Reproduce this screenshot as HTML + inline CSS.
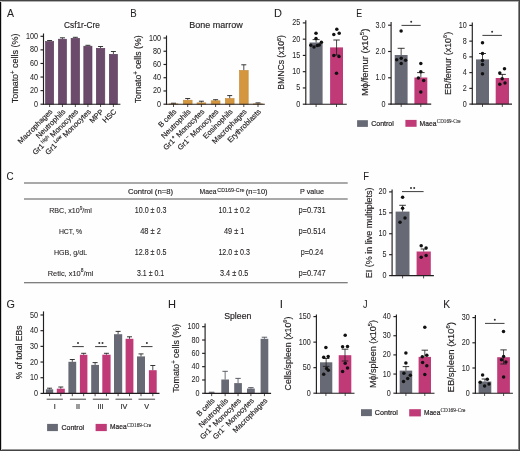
<!DOCTYPE html>
<html><head><meta charset="utf-8"><style>
html,body{margin:0;padding:0;background:#fefefe;}
svg{display:block;will-change:transform;}
text{font-family:"Liberation Sans", sans-serif;stroke:#231f20;stroke-width:0.16px;}
</style></head><body>
<svg width="520" height="451" viewBox="0 0 520 451" font-family='"Liberation Sans", sans-serif' fill="#231f20">
<rect x="0" y="0" width="520" height="451" fill="#fefefe"/>
<text x="0" y="0" font-size="10.5" style="stroke-width:0.06px" transform="translate(7.0 17.0) scale(1.0 1)">A</text>
<text x="0" y="0" font-size="10.5" style="stroke-width:0.06px" transform="translate(130.23 17.0) scale(0.92 1)">B</text>
<text x="0" y="0" font-size="10.5" style="stroke-width:0.06px" transform="translate(273.92 17.0) scale(1.05 1)">D</text>
<text x="0" y="0" font-size="10.5" style="stroke-width:0.06px" transform="translate(356.3 17.0) scale(0.84 1)">E</text>
<text x="0" y="0" font-size="10.5" style="stroke-width:0.06px" transform="translate(6.61 180.0) scale(0.94 1)">C</text>
<text x="0" y="0" font-size="10.5" style="stroke-width:0.06px" transform="translate(363.14 180.0) scale(0.9 1)">F</text>
<text x="0" y="0" font-size="10.5" style="stroke-width:0.06px" transform="translate(6.56 308.0) scale(1.03 1)">G</text>
<text x="0" y="0" font-size="10.5" style="stroke-width:0.06px" transform="translate(168.12 308.0) scale(1.05 1)">H</text>
<text x="0" y="0" font-size="10.5" style="stroke-width:0.06px" transform="translate(279.76 308.0) scale(1.1 1)">I</text>
<text x="0" y="0" font-size="10.5" style="stroke-width:0.06px" transform="translate(363.12 308.0) scale(0.86 1)">J</text>
<text x="0" y="0" font-size="10.5" style="stroke-width:0.06px" transform="translate(443.18 308.0) scale(0.98 1)">K</text>
<line x1="43.50" y1="33.50" x2="43.50" y2="104.70" stroke="#231f20" stroke-width="1.15"/>
<line x1="40.50" y1="104.20" x2="43.50" y2="104.20" stroke="#231f20" stroke-width="1.15"/>
<text x="37.90" y="106.70" font-size="8.2" style="stroke-width:0.04px" text-anchor="end" textLength="4.00" lengthAdjust="spacingAndGlyphs" >0</text>
<line x1="40.50" y1="90.62" x2="43.50" y2="90.62" stroke="#231f20" stroke-width="1.15"/>
<text x="37.90" y="93.12" font-size="8.2" style="stroke-width:0.04px" text-anchor="end" textLength="8.01" lengthAdjust="spacingAndGlyphs" >20</text>
<line x1="40.50" y1="77.04" x2="43.50" y2="77.04" stroke="#231f20" stroke-width="1.15"/>
<text x="37.90" y="79.54" font-size="8.2" style="stroke-width:0.04px" text-anchor="end" textLength="8.01" lengthAdjust="spacingAndGlyphs" >40</text>
<line x1="40.50" y1="63.46" x2="43.50" y2="63.46" stroke="#231f20" stroke-width="1.15"/>
<text x="37.90" y="65.96" font-size="8.2" style="stroke-width:0.04px" text-anchor="end" textLength="8.01" lengthAdjust="spacingAndGlyphs" >60</text>
<line x1="40.50" y1="49.88" x2="43.50" y2="49.88" stroke="#231f20" stroke-width="1.15"/>
<text x="37.90" y="52.38" font-size="8.2" style="stroke-width:0.04px" text-anchor="end" textLength="8.01" lengthAdjust="spacingAndGlyphs" >80</text>
<line x1="40.50" y1="36.30" x2="43.50" y2="36.30" stroke="#231f20" stroke-width="1.15"/>
<text x="37.90" y="38.80" font-size="8.2" style="stroke-width:0.04px" text-anchor="end" textLength="12.01" lengthAdjust="spacingAndGlyphs" >100</text>
<rect x="45.50" y="41.50" width="8.20" height="62.70" fill="#6b4a6b" stroke="#5a3a5a" stroke-width="0.6"/>
<line x1="49.60" y1="40.50" x2="49.60" y2="41.20" stroke="#222" stroke-width="0.8"/>
<line x1="47.10" y1="40.50" x2="52.10" y2="40.50" stroke="#222" stroke-width="0.9"/>
<rect x="58.40" y="39.20" width="8.10" height="65.00" fill="#6b4a6b" stroke="#5a3a5a" stroke-width="0.6"/>
<line x1="62.45" y1="37.80" x2="62.45" y2="38.90" stroke="#222" stroke-width="0.8"/>
<line x1="59.95" y1="37.80" x2="64.95" y2="37.80" stroke="#222" stroke-width="0.9"/>
<rect x="71.10" y="38.30" width="8.50" height="65.90" fill="#6b4a6b" stroke="#5a3a5a" stroke-width="0.6"/>
<line x1="75.35" y1="37.30" x2="75.35" y2="38.00" stroke="#222" stroke-width="0.8"/>
<line x1="72.85" y1="37.30" x2="77.85" y2="37.30" stroke="#222" stroke-width="0.9"/>
<rect x="83.80" y="46.20" width="8.20" height="58.00" fill="#6b4a6b" stroke="#5a3a5a" stroke-width="0.6"/>
<line x1="87.90" y1="45.30" x2="87.90" y2="45.90" stroke="#222" stroke-width="0.8"/>
<line x1="85.40" y1="45.30" x2="90.40" y2="45.30" stroke="#222" stroke-width="0.9"/>
<rect x="96.30" y="48.30" width="8.50" height="55.90" fill="#6b4a6b" stroke="#5a3a5a" stroke-width="0.6"/>
<line x1="100.55" y1="46.50" x2="100.55" y2="48.00" stroke="#222" stroke-width="0.8"/>
<line x1="98.05" y1="46.50" x2="103.05" y2="46.50" stroke="#222" stroke-width="0.9"/>
<rect x="109.30" y="54.30" width="8.20" height="49.90" fill="#6b4a6b" stroke="#5a3a5a" stroke-width="0.6"/>
<line x1="113.40" y1="51.50" x2="113.40" y2="54.00" stroke="#222" stroke-width="0.8"/>
<line x1="110.90" y1="51.50" x2="115.90" y2="51.50" stroke="#222" stroke-width="0.9"/>
<line x1="43.00" y1="104.20" x2="120.40" y2="104.20" stroke="#231f20" stroke-width="1.15"/>
<line x1="49.60" y1="104.20" x2="49.60" y2="107.00" stroke="#231f20" stroke-width="0.8"/>
<line x1="62.45" y1="104.20" x2="62.45" y2="107.00" stroke="#231f20" stroke-width="0.8"/>
<line x1="75.35" y1="104.20" x2="75.35" y2="107.00" stroke="#231f20" stroke-width="0.8"/>
<line x1="87.90" y1="104.20" x2="87.90" y2="107.00" stroke="#231f20" stroke-width="0.8"/>
<line x1="100.55" y1="104.20" x2="100.55" y2="107.00" stroke="#231f20" stroke-width="0.8"/>
<line x1="113.40" y1="104.20" x2="113.40" y2="107.00" stroke="#231f20" stroke-width="0.8"/>
<text x="82.00" y="28.00" font-size="8.6" text-anchor="middle" textLength="36.00" lengthAdjust="spacingAndGlyphs" >Csf1r-Cre</text>
<text x="18.45" y="68.40" font-size="9.6" text-anchor="middle" textLength="69.80" lengthAdjust="spacingAndGlyphs" transform="rotate(-90 18.45 68.40)" >Tomato<tspan font-size="6.5" dy="-3.5">+</tspan><tspan dy="3.5"> cells (%)</tspan></text>
<text x="53.00" y="112.10" font-size="7.5" text-anchor="end" transform="rotate(-45 53.00 112.10)">Macrophages</text>
<text x="65.85" y="112.10" font-size="7.5" text-anchor="end" transform="rotate(-45 65.85 112.10)">Neutrophils</text>
<text x="78.75" y="112.10" font-size="7.5" text-anchor="end" transform="rotate(-45 78.75 112.10)">Gr1<tspan font-size="5" dx="0.8" dy="-3" fill="#555">high</tspan><tspan dy="3"> Monocytes</tspan></text>
<text x="91.30" y="112.10" font-size="7.5" text-anchor="end" transform="rotate(-45 91.30 112.10)">Gr1<tspan font-size="5" dx="0.8" dy="-3">Low</tspan><tspan dy="3"> Monocytes</tspan></text>
<text x="103.95" y="112.10" font-size="7.5" text-anchor="end" transform="rotate(-45 103.95 112.10)">MPP</text>
<text x="116.80" y="112.10" font-size="7.5" text-anchor="end" transform="rotate(-45 116.80 112.10)">HSC</text>
<line x1="166.50" y1="35.50" x2="166.50" y2="104.70" stroke="#231f20" stroke-width="1.15"/>
<line x1="163.50" y1="104.20" x2="166.50" y2="104.20" stroke="#231f20" stroke-width="1.15"/>
<text x="160.90" y="106.70" font-size="8.2" style="stroke-width:0.04px" text-anchor="end" textLength="4.00" lengthAdjust="spacingAndGlyphs" >0</text>
<line x1="163.50" y1="90.96" x2="166.50" y2="90.96" stroke="#231f20" stroke-width="1.15"/>
<text x="160.90" y="93.46" font-size="8.2" style="stroke-width:0.04px" text-anchor="end" textLength="8.01" lengthAdjust="spacingAndGlyphs" >20</text>
<line x1="163.50" y1="77.72" x2="166.50" y2="77.72" stroke="#231f20" stroke-width="1.15"/>
<text x="160.90" y="80.22" font-size="8.2" style="stroke-width:0.04px" text-anchor="end" textLength="8.01" lengthAdjust="spacingAndGlyphs" >40</text>
<line x1="163.50" y1="64.48" x2="166.50" y2="64.48" stroke="#231f20" stroke-width="1.15"/>
<text x="160.90" y="66.98" font-size="8.2" style="stroke-width:0.04px" text-anchor="end" textLength="8.01" lengthAdjust="spacingAndGlyphs" >60</text>
<line x1="163.50" y1="51.24" x2="166.50" y2="51.24" stroke="#231f20" stroke-width="1.15"/>
<text x="160.90" y="53.74" font-size="8.2" style="stroke-width:0.04px" text-anchor="end" textLength="8.01" lengthAdjust="spacingAndGlyphs" >80</text>
<line x1="163.50" y1="38.00" x2="166.50" y2="38.00" stroke="#231f20" stroke-width="1.15"/>
<text x="160.90" y="40.50" font-size="8.2" style="stroke-width:0.04px" text-anchor="end" textLength="12.01" lengthAdjust="spacingAndGlyphs" >100</text>
<rect x="169.10" y="103.84" width="8.80" height="0.36" fill="#d4963e" stroke="#c48a36" stroke-width="0.6"/>
<line x1="173.50" y1="103.21" x2="173.50" y2="103.54" stroke="#222" stroke-width="0.8"/>
<line x1="171.00" y1="103.21" x2="176.00" y2="103.21" stroke="#222" stroke-width="0.9"/>
<rect x="183.30" y="100.20" width="8.80" height="4.00" fill="#d4963e" stroke="#c48a36" stroke-width="0.6"/>
<line x1="187.70" y1="98.51" x2="187.70" y2="99.90" stroke="#222" stroke-width="0.8"/>
<line x1="185.20" y1="98.51" x2="190.20" y2="98.51" stroke="#222" stroke-width="0.9"/>
<rect x="197.00" y="102.84" width="8.80" height="1.36" fill="#d4963e" stroke="#c48a36" stroke-width="0.6"/>
<line x1="201.40" y1="101.22" x2="201.40" y2="102.55" stroke="#222" stroke-width="0.8"/>
<line x1="198.90" y1="101.22" x2="203.90" y2="101.22" stroke="#222" stroke-width="0.9"/>
<rect x="211.20" y="100.79" width="8.80" height="3.41" fill="#d4963e" stroke="#c48a36" stroke-width="0.6"/>
<line x1="215.60" y1="99.70" x2="215.60" y2="100.49" stroke="#222" stroke-width="0.8"/>
<line x1="213.10" y1="99.70" x2="218.10" y2="99.70" stroke="#222" stroke-width="0.9"/>
<rect x="225.30" y="98.54" width="8.80" height="5.66" fill="#d4963e" stroke="#c48a36" stroke-width="0.6"/>
<line x1="229.70" y1="95.59" x2="229.70" y2="98.24" stroke="#222" stroke-width="0.8"/>
<line x1="227.20" y1="95.59" x2="232.20" y2="95.59" stroke="#222" stroke-width="0.9"/>
<rect x="239.40" y="70.41" width="8.80" height="33.79" fill="#d4963e" stroke="#c48a36" stroke-width="0.6"/>
<line x1="243.80" y1="64.81" x2="243.80" y2="70.11" stroke="#222" stroke-width="0.8"/>
<line x1="241.30" y1="64.81" x2="246.30" y2="64.81" stroke="#222" stroke-width="0.9"/>
<rect x="253.60" y="103.84" width="8.80" height="0.36" fill="#d4963e" stroke="#c48a36" stroke-width="0.6"/>
<line x1="258.00" y1="102.88" x2="258.00" y2="103.54" stroke="#222" stroke-width="0.8"/>
<line x1="255.50" y1="102.88" x2="260.50" y2="102.88" stroke="#222" stroke-width="0.9"/>
<line x1="166.00" y1="104.20" x2="264.80" y2="104.20" stroke="#231f20" stroke-width="1.15"/>
<line x1="173.50" y1="104.20" x2="173.50" y2="107.00" stroke="#231f20" stroke-width="0.8"/>
<line x1="187.70" y1="104.20" x2="187.70" y2="107.00" stroke="#231f20" stroke-width="0.8"/>
<line x1="201.40" y1="104.20" x2="201.40" y2="107.00" stroke="#231f20" stroke-width="0.8"/>
<line x1="215.60" y1="104.20" x2="215.60" y2="107.00" stroke="#231f20" stroke-width="0.8"/>
<line x1="229.70" y1="104.20" x2="229.70" y2="107.00" stroke="#231f20" stroke-width="0.8"/>
<line x1="243.80" y1="104.20" x2="243.80" y2="107.00" stroke="#231f20" stroke-width="0.8"/>
<line x1="258.00" y1="104.20" x2="258.00" y2="107.00" stroke="#231f20" stroke-width="0.8"/>
<text x="216.00" y="27.90" font-size="8.6" text-anchor="middle" textLength="53.40" lengthAdjust="spacingAndGlyphs" >Bone marrow</text>
<text x="141.05" y="69.35" font-size="9.6" text-anchor="middle" textLength="67.90" lengthAdjust="spacingAndGlyphs" transform="rotate(-90 141.05 69.35)" >Tomato<tspan font-size="6.5" dy="-3.5">+</tspan><tspan dy="3.5"> cells (%)</tspan></text>
<text x="176.90" y="112.10" font-size="7.5" text-anchor="end" transform="rotate(-45 176.90 112.10)">B cells</text>
<text x="191.10" y="112.10" font-size="7.5" text-anchor="end" transform="rotate(-45 191.10 112.10)">Neutrophils</text>
<text x="204.80" y="112.10" font-size="7.5" text-anchor="end" transform="rotate(-45 204.80 112.10)">Gr1<tspan font-size="5.5" dx="0.3" dy="-3">+</tspan><tspan dy="3"> Monocytes</tspan></text>
<text x="219.00" y="112.10" font-size="7.5" text-anchor="end" transform="rotate(-45 219.00 112.10)">Gr1<tspan font-size="5.5" dx="0.3" dy="-3">−</tspan><tspan dy="3"> Monocytes</tspan></text>
<text x="233.10" y="112.10" font-size="7.5" text-anchor="end" transform="rotate(-45 233.10 112.10)">Eosinophils</text>
<text x="247.20" y="112.10" font-size="7.5" text-anchor="end" transform="rotate(-45 247.20 112.10)">Macrophages</text>
<text x="261.40" y="112.10" font-size="7.5" text-anchor="end" transform="rotate(-45 261.40 112.10)">Erythroblasts</text>
<line x1="305.80" y1="20.20" x2="305.80" y2="104.70" stroke="#231f20" stroke-width="1.15"/>
<line x1="302.80" y1="104.20" x2="305.80" y2="104.20" stroke="#231f20" stroke-width="1.15"/>
<text x="300.20" y="106.70" font-size="8.2" style="stroke-width:0.04px" text-anchor="end" textLength="4.00" lengthAdjust="spacingAndGlyphs" >0</text>
<line x1="302.80" y1="87.94" x2="305.80" y2="87.94" stroke="#231f20" stroke-width="1.15"/>
<text x="300.20" y="90.44" font-size="8.2" style="stroke-width:0.04px" text-anchor="end" textLength="4.00" lengthAdjust="spacingAndGlyphs" >5</text>
<line x1="302.80" y1="71.68" x2="305.80" y2="71.68" stroke="#231f20" stroke-width="1.15"/>
<text x="300.20" y="74.18" font-size="8.2" style="stroke-width:0.04px" text-anchor="end" textLength="8.01" lengthAdjust="spacingAndGlyphs" >10</text>
<line x1="302.80" y1="55.42" x2="305.80" y2="55.42" stroke="#231f20" stroke-width="1.15"/>
<text x="300.20" y="57.92" font-size="8.2" style="stroke-width:0.04px" text-anchor="end" textLength="8.01" lengthAdjust="spacingAndGlyphs" >15</text>
<line x1="302.80" y1="39.16" x2="305.80" y2="39.16" stroke="#231f20" stroke-width="1.15"/>
<text x="300.20" y="41.66" font-size="8.2" style="stroke-width:0.04px" text-anchor="end" textLength="8.01" lengthAdjust="spacingAndGlyphs" >20</text>
<line x1="302.80" y1="22.90" x2="305.80" y2="22.90" stroke="#231f20" stroke-width="1.15"/>
<text x="300.20" y="25.40" font-size="8.2" style="stroke-width:0.04px" text-anchor="end" textLength="8.01" lengthAdjust="spacingAndGlyphs" >25</text>
<rect x="309.60" y="42.50" width="13.00" height="61.70" fill="#676a74"/>
<line x1="316.10" y1="39.60" x2="316.10" y2="42.50" stroke="#231f20" stroke-width="0.8"/>
<line x1="312.60" y1="39.60" x2="319.60" y2="39.60" stroke="#231f20" stroke-width="0.9"/>
<rect x="330.10" y="47.40" width="12.90" height="56.80" fill="#c03a78"/>
<line x1="336.55" y1="40.00" x2="336.55" y2="55.00" stroke="#231f20" stroke-width="0.8"/>
<line x1="333.35" y1="40.00" x2="339.75" y2="40.00" stroke="#231f20" stroke-width="0.9"/>
<line x1="333.35" y1="55.00" x2="339.75" y2="55.00" stroke="#231f20" stroke-width="0.9"/>
<line x1="305.30" y1="104.20" x2="346.75" y2="104.20" stroke="#231f20" stroke-width="1.15"/>
<line x1="316.10" y1="104.20" x2="316.10" y2="107.00" stroke="#231f20" stroke-width="0.8"/>
<line x1="336.50" y1="104.20" x2="336.50" y2="107.00" stroke="#231f20" stroke-width="0.8"/>
<circle cx="316.00" cy="33.20" r="1.75" fill="#111"/>
<circle cx="316.00" cy="38.40" r="1.75" fill="#111"/>
<circle cx="321.40" cy="42.30" r="1.75" fill="#111"/>
<circle cx="310.80" cy="45.30" r="1.75" fill="#111"/>
<circle cx="314.00" cy="46.90" r="1.75" fill="#111"/>
<circle cx="317.30" cy="45.60" r="1.75" fill="#111"/>
<circle cx="319.30" cy="45.00" r="1.75" fill="#111"/>
<circle cx="336.80" cy="29.30" r="1.75" fill="#111"/>
<circle cx="339.20" cy="33.20" r="1.75" fill="#111"/>
<circle cx="333.80" cy="34.60" r="1.75" fill="#111"/>
<circle cx="333.80" cy="55.40" r="1.75" fill="#111"/>
<circle cx="339.00" cy="56.50" r="1.75" fill="#111"/>
<circle cx="336.50" cy="73.30" r="1.75" fill="#111"/>
<text x="284.35" y="62.35" font-size="9.6" text-anchor="middle" textLength="54.70" lengthAdjust="spacingAndGlyphs" transform="rotate(-90 284.35 62.35)" >BMNCs (x10<tspan font-size="6" dy="-3.6">6</tspan><tspan dy="3.6">)</tspan></text>
<line x1="391.10" y1="21.90" x2="391.10" y2="104.60" stroke="#231f20" stroke-width="1.15"/>
<line x1="388.10" y1="104.10" x2="391.10" y2="104.10" stroke="#231f20" stroke-width="1.15"/>
<text x="385.50" y="106.60" font-size="8.2" style="stroke-width:0.04px" text-anchor="end" textLength="4.00" lengthAdjust="spacingAndGlyphs" >0</text>
<line x1="388.10" y1="77.80" x2="391.10" y2="77.80" stroke="#231f20" stroke-width="1.15"/>
<text x="385.50" y="80.30" font-size="8.2" style="stroke-width:0.04px" text-anchor="end" textLength="10.01" lengthAdjust="spacingAndGlyphs" >1.0</text>
<line x1="388.10" y1="51.50" x2="391.10" y2="51.50" stroke="#231f20" stroke-width="1.15"/>
<text x="385.50" y="54.00" font-size="8.2" style="stroke-width:0.04px" text-anchor="end" textLength="10.01" lengthAdjust="spacingAndGlyphs" >2.0</text>
<line x1="388.10" y1="25.20" x2="391.10" y2="25.20" stroke="#231f20" stroke-width="1.15"/>
<text x="385.50" y="27.70" font-size="8.2" style="stroke-width:0.04px" text-anchor="end" textLength="10.01" lengthAdjust="spacingAndGlyphs" >3.0</text>
<rect x="394.70" y="55.00" width="12.90" height="49.10" fill="#676a74"/>
<line x1="401.15" y1="48.30" x2="401.15" y2="55.00" stroke="#231f20" stroke-width="0.8"/>
<line x1="397.65" y1="48.30" x2="404.65" y2="48.30" stroke="#231f20" stroke-width="0.9"/>
<rect x="414.40" y="77.50" width="12.90" height="26.60" fill="#c03a78"/>
<line x1="420.85" y1="72.60" x2="420.85" y2="77.50" stroke="#231f20" stroke-width="0.8"/>
<line x1="417.10" y1="72.60" x2="424.60" y2="72.60" stroke="#231f20" stroke-width="0.9"/>
<line x1="390.60" y1="104.10" x2="431.20" y2="104.10" stroke="#231f20" stroke-width="1.15"/>
<line x1="401.20" y1="104.10" x2="401.20" y2="106.90" stroke="#231f20" stroke-width="0.8"/>
<line x1="420.80" y1="104.10" x2="420.80" y2="106.90" stroke="#231f20" stroke-width="0.8"/>
<circle cx="401.10" cy="31.10" r="1.75" fill="#111"/>
<circle cx="396.70" cy="59.70" r="1.75" fill="#111"/>
<circle cx="401.20" cy="58.30" r="1.75" fill="#111"/>
<circle cx="405.60" cy="60.20" r="1.75" fill="#111"/>
<circle cx="401.20" cy="63.60" r="1.75" fill="#111"/>
<circle cx="420.80" cy="63.60" r="1.75" fill="#111"/>
<circle cx="420.80" cy="71.80" r="1.75" fill="#111"/>
<circle cx="418.40" cy="78.00" r="1.75" fill="#111"/>
<circle cx="423.70" cy="80.60" r="1.75" fill="#111"/>
<circle cx="420.80" cy="92.00" r="1.75" fill="#111"/>
<line x1="401.50" y1="25.40" x2="420.70" y2="25.40" stroke="#333" stroke-width="0.95"/>
<circle cx="411.20" cy="21.70" r="1.0" fill="#333"/>
<text x="367.85" y="62.35" font-size="9.6" text-anchor="middle" textLength="67.30" lengthAdjust="spacingAndGlyphs" transform="rotate(-90 367.85 62.35)" >Mϕ/femur (x10<tspan font-size="6" dy="-3.6">5</tspan><tspan dy="3.6">)</tspan></text>
<line x1="472.30" y1="22.50" x2="472.30" y2="104.60" stroke="#231f20" stroke-width="1.15"/>
<line x1="469.30" y1="104.10" x2="472.30" y2="104.10" stroke="#231f20" stroke-width="1.15"/>
<text x="466.70" y="106.60" font-size="8.2" style="stroke-width:0.04px" text-anchor="end" textLength="4.00" lengthAdjust="spacingAndGlyphs" >0</text>
<line x1="469.30" y1="88.36" x2="472.30" y2="88.36" stroke="#231f20" stroke-width="1.15"/>
<text x="466.70" y="90.86" font-size="8.2" style="stroke-width:0.04px" text-anchor="end" textLength="4.00" lengthAdjust="spacingAndGlyphs" >2</text>
<line x1="469.30" y1="72.62" x2="472.30" y2="72.62" stroke="#231f20" stroke-width="1.15"/>
<text x="466.70" y="75.12" font-size="8.2" style="stroke-width:0.04px" text-anchor="end" textLength="4.00" lengthAdjust="spacingAndGlyphs" >4</text>
<line x1="469.30" y1="56.88" x2="472.30" y2="56.88" stroke="#231f20" stroke-width="1.15"/>
<text x="466.70" y="59.38" font-size="8.2" style="stroke-width:0.04px" text-anchor="end" textLength="4.00" lengthAdjust="spacingAndGlyphs" >6</text>
<line x1="469.30" y1="41.14" x2="472.30" y2="41.14" stroke="#231f20" stroke-width="1.15"/>
<text x="466.70" y="43.64" font-size="8.2" style="stroke-width:0.04px" text-anchor="end" textLength="4.00" lengthAdjust="spacingAndGlyphs" >8</text>
<line x1="469.30" y1="25.40" x2="472.30" y2="25.40" stroke="#231f20" stroke-width="1.15"/>
<text x="466.70" y="27.90" font-size="8.2" style="stroke-width:0.04px" text-anchor="end" textLength="8.01" lengthAdjust="spacingAndGlyphs" >10</text>
<rect x="476.00" y="59.40" width="13.00" height="44.70" fill="#676a74"/>
<line x1="482.50" y1="53.50" x2="482.50" y2="59.40" stroke="#231f20" stroke-width="0.8"/>
<line x1="479.00" y1="53.50" x2="486.00" y2="53.50" stroke="#231f20" stroke-width="0.9"/>
<rect x="495.70" y="78.00" width="13.30" height="26.10" fill="#c03a78"/>
<line x1="502.35" y1="74.40" x2="502.35" y2="78.00" stroke="#231f20" stroke-width="0.8"/>
<line x1="498.85" y1="74.40" x2="505.85" y2="74.40" stroke="#231f20" stroke-width="0.9"/>
<line x1="471.80" y1="104.10" x2="512.00" y2="104.10" stroke="#231f20" stroke-width="1.15"/>
<line x1="482.50" y1="104.10" x2="482.50" y2="106.90" stroke="#231f20" stroke-width="0.8"/>
<line x1="502.30" y1="104.10" x2="502.30" y2="106.90" stroke="#231f20" stroke-width="0.8"/>
<circle cx="482.50" cy="42.80" r="1.75" fill="#111"/>
<circle cx="482.50" cy="53.50" r="1.75" fill="#111"/>
<circle cx="482.50" cy="60.50" r="1.75" fill="#111"/>
<circle cx="482.50" cy="64.50" r="1.75" fill="#111"/>
<circle cx="482.50" cy="73.80" r="1.75" fill="#111"/>
<circle cx="504.50" cy="68.70" r="1.75" fill="#111"/>
<circle cx="499.80" cy="72.90" r="1.75" fill="#111"/>
<circle cx="502.20" cy="78.80" r="1.75" fill="#111"/>
<circle cx="499.80" cy="84.20" r="1.75" fill="#111"/>
<circle cx="505.00" cy="83.00" r="1.75" fill="#111"/>
<line x1="482.40" y1="35.40" x2="501.90" y2="35.40" stroke="#333" stroke-width="0.95"/>
<circle cx="492.10" cy="31.70" r="1.0" fill="#333"/>
<text x="451.05" y="63.40" font-size="9.6" text-anchor="middle" textLength="63.20" lengthAdjust="spacingAndGlyphs" transform="rotate(-90 451.05 63.40)" >EB/femur (x10<tspan font-size="6" dy="-3.6">6</tspan><tspan dy="3.6">)</tspan></text>
<rect x="357.10" y="120.20" width="10.80" height="6.70" fill="#676a74"/>
<text x="371.20" y="126.30" font-size="7.9" style="stroke-width:0.22px" textLength="22.60" lengthAdjust="spacingAndGlyphs" >Control</text>
<rect x="405.40" y="119.90" width="11.20" height="6.90" fill="#c03a78"/>
<text x="419.60" y="126.00" font-size="7.9" style="stroke-width:0.22px" textLength="16.90" lengthAdjust="spacingAndGlyphs" >Maea</text>
<text x="436.80" y="122.60" font-size="5.4" style="stroke-width:0.1px;font-family:'Liberation Serif', serif" textLength="23.70" lengthAdjust="spacingAndGlyphs" >CD169-Cre</text>
<line x1="24.00" y1="183.00" x2="347.70" y2="183.00" stroke="#555" stroke-width="1.2"/>
<line x1="24.00" y1="199.00" x2="347.70" y2="199.00" stroke="#555" stroke-width="1.1"/>
<line x1="24.00" y1="282.80" x2="347.70" y2="282.80" stroke="#555" stroke-width="1.1"/>
<text x="150.50" y="193.80" font-size="7.6" style="stroke-width:0.15px" text-anchor="middle" textLength="45.00" lengthAdjust="spacingAndGlyphs" >Control (n=8)</text>
<text x="199.60" y="193.80" font-size="7.6" style="stroke-width:0.15px" textLength="16.90" lengthAdjust="spacingAndGlyphs" >Maea</text>
<text x="217.30" y="191.60" font-size="5.0" style="stroke-width:0.1px" textLength="27.20" lengthAdjust="spacingAndGlyphs" >CD169-Cre</text>
<text x="245.80" y="193.80" font-size="7.6" style="stroke-width:0.15px" textLength="21.80" lengthAdjust="spacingAndGlyphs" >(n=10)</text>
<text x="312.00" y="193.80" font-size="7.6" style="stroke-width:0.15px" text-anchor="middle" textLength="23.80" lengthAdjust="spacingAndGlyphs" >P value</text>
<text x="70.50" y="213.00" font-size="7.8" style="stroke-width:0.1px" text-anchor="middle" textLength="42.60" lengthAdjust="spacingAndGlyphs" >RBC, x10<tspan font-size="5.2" dy="-3.2">9</tspan><tspan dy="3.2">/ml</tspan></text>
<text x="150.60" y="213.00" font-size="8.3" style="stroke-width:0.1px" text-anchor="middle" textLength="31.60" lengthAdjust="spacingAndGlyphs" >10.0 ± 0.3</text>
<text x="234.20" y="213.00" font-size="8.3" style="stroke-width:0.1px" text-anchor="middle" textLength="31.50" lengthAdjust="spacingAndGlyphs" >10.1 ± 0.2</text>
<text x="312.00" y="213.00" font-size="8.3" style="stroke-width:0.1px" text-anchor="middle" textLength="27.20" lengthAdjust="spacingAndGlyphs" >p=0.731</text>
<text x="70.50" y="233.60" font-size="7.8" style="stroke-width:0.1px" text-anchor="middle" textLength="23.20" lengthAdjust="spacingAndGlyphs" >HCT, %</text>
<text x="150.60" y="233.60" font-size="8.3" style="stroke-width:0.1px" text-anchor="middle" textLength="20.80" lengthAdjust="spacingAndGlyphs" >48 ± 2</text>
<text x="234.20" y="233.60" font-size="8.3" style="stroke-width:0.1px" text-anchor="middle" textLength="20.30" lengthAdjust="spacingAndGlyphs" >49 ± 1</text>
<text x="312.00" y="233.60" font-size="8.3" style="stroke-width:0.1px" text-anchor="middle" textLength="27.20" lengthAdjust="spacingAndGlyphs" >p=0.514</text>
<text x="70.50" y="254.80" font-size="7.8" style="stroke-width:0.1px" text-anchor="middle" textLength="33.20" lengthAdjust="spacingAndGlyphs" >HGB, g/dL</text>
<text x="150.60" y="254.80" font-size="8.3" style="stroke-width:0.1px" text-anchor="middle" textLength="31.60" lengthAdjust="spacingAndGlyphs" >12.8 ± 0.5</text>
<text x="234.20" y="254.80" font-size="8.3" style="stroke-width:0.1px" text-anchor="middle" textLength="31.60" lengthAdjust="spacingAndGlyphs" >12.0 ± 0.3</text>
<text x="312.00" y="254.80" font-size="8.3" style="stroke-width:0.1px" text-anchor="middle" textLength="22.40" lengthAdjust="spacingAndGlyphs" >p=0.24</text>
<text x="70.50" y="275.60" font-size="7.8" style="stroke-width:0.1px" text-anchor="middle" textLength="45.50" lengthAdjust="spacingAndGlyphs" >Retic, x10<tspan font-size="5.2" dy="-3.2">8</tspan><tspan dy="3.2">/ml</tspan></text>
<text x="150.60" y="275.60" font-size="8.3" style="stroke-width:0.1px" text-anchor="middle" textLength="27.20" lengthAdjust="spacingAndGlyphs" >3.1 ± 0.1</text>
<text x="234.20" y="275.60" font-size="8.3" style="stroke-width:0.1px" text-anchor="middle" textLength="28.30" lengthAdjust="spacingAndGlyphs" >3.4 ± 0.5</text>
<text x="312.00" y="275.60" font-size="8.3" style="stroke-width:0.1px" text-anchor="middle" textLength="27.20" lengthAdjust="spacingAndGlyphs" >p=0.747</text>
<line x1="392.10" y1="189.50" x2="392.10" y2="276.10" stroke="#231f20" stroke-width="1.15"/>
<line x1="389.10" y1="275.60" x2="392.10" y2="275.60" stroke="#231f20" stroke-width="1.15"/>
<text x="386.50" y="278.10" font-size="8.2" style="stroke-width:0.04px" text-anchor="end" textLength="4.00" lengthAdjust="spacingAndGlyphs" >0</text>
<line x1="389.10" y1="254.68" x2="392.10" y2="254.68" stroke="#231f20" stroke-width="1.15"/>
<text x="386.50" y="257.18" font-size="8.2" style="stroke-width:0.04px" text-anchor="end" textLength="4.00" lengthAdjust="spacingAndGlyphs" >5</text>
<line x1="389.10" y1="233.75" x2="392.10" y2="233.75" stroke="#231f20" stroke-width="1.15"/>
<text x="386.50" y="236.25" font-size="8.2" style="stroke-width:0.04px" text-anchor="end" textLength="8.01" lengthAdjust="spacingAndGlyphs" >10</text>
<line x1="389.10" y1="212.83" x2="392.10" y2="212.83" stroke="#231f20" stroke-width="1.15"/>
<text x="386.50" y="215.33" font-size="8.2" style="stroke-width:0.04px" text-anchor="end" textLength="8.01" lengthAdjust="spacingAndGlyphs" >15</text>
<line x1="389.10" y1="191.90" x2="392.10" y2="191.90" stroke="#231f20" stroke-width="1.15"/>
<text x="386.50" y="194.40" font-size="8.2" style="stroke-width:0.04px" text-anchor="end" textLength="8.01" lengthAdjust="spacingAndGlyphs" >20</text>
<rect x="395.60" y="211.60" width="13.90" height="64.00" fill="#676a74"/>
<line x1="402.55" y1="205.30" x2="402.55" y2="211.60" stroke="#231f20" stroke-width="0.8"/>
<line x1="399.25" y1="205.30" x2="405.85" y2="205.30" stroke="#231f20" stroke-width="0.9"/>
<rect x="416.60" y="251.50" width="14.20" height="24.10" fill="#c03a78"/>
<line x1="423.70" y1="249.00" x2="423.70" y2="251.50" stroke="#231f20" stroke-width="0.8"/>
<line x1="420.70" y1="249.00" x2="426.70" y2="249.00" stroke="#231f20" stroke-width="0.9"/>
<line x1="391.60" y1="275.60" x2="433.90" y2="275.60" stroke="#231f20" stroke-width="1.15"/>
<line x1="402.60" y1="275.60" x2="402.60" y2="278.40" stroke="#231f20" stroke-width="0.8"/>
<line x1="423.60" y1="275.60" x2="423.60" y2="278.40" stroke="#231f20" stroke-width="0.8"/>
<circle cx="402.60" cy="197.30" r="1.75" fill="#111"/>
<circle cx="402.60" cy="208.20" r="1.75" fill="#111"/>
<circle cx="405.00" cy="217.90" r="1.75" fill="#111"/>
<circle cx="400.00" cy="222.30" r="1.75" fill="#111"/>
<circle cx="421.20" cy="245.70" r="1.75" fill="#111"/>
<circle cx="426.10" cy="248.00" r="1.75" fill="#111"/>
<circle cx="426.10" cy="255.50" r="1.75" fill="#111"/>
<circle cx="421.20" cy="257.30" r="1.75" fill="#111"/>
<line x1="402.00" y1="191.60" x2="423.60" y2="191.60" stroke="#333" stroke-width="0.95"/>
<circle cx="411.00" cy="187.90" r="1.0" fill="#333"/>
<circle cx="414.20" cy="187.90" r="1.0" fill="#333"/>
<text x="372.05" y="232.80" font-size="9.6" text-anchor="middle" textLength="90.80" lengthAdjust="spacingAndGlyphs" transform="rotate(-90 372.05 232.80)" >EI (% in live multiplets)</text>
<line x1="43.50" y1="311.40" x2="43.50" y2="393.90" stroke="#231f20" stroke-width="1.15"/>
<line x1="40.50" y1="393.40" x2="43.50" y2="393.40" stroke="#231f20" stroke-width="1.15"/>
<text x="37.90" y="395.90" font-size="8.2" style="stroke-width:0.04px" text-anchor="end" textLength="4.00" lengthAdjust="spacingAndGlyphs" >0</text>
<line x1="40.50" y1="377.72" x2="43.50" y2="377.72" stroke="#231f20" stroke-width="1.15"/>
<text x="37.90" y="380.22" font-size="8.2" style="stroke-width:0.04px" text-anchor="end" textLength="8.01" lengthAdjust="spacingAndGlyphs" >10</text>
<line x1="40.50" y1="362.04" x2="43.50" y2="362.04" stroke="#231f20" stroke-width="1.15"/>
<text x="37.90" y="364.54" font-size="8.2" style="stroke-width:0.04px" text-anchor="end" textLength="8.01" lengthAdjust="spacingAndGlyphs" >20</text>
<line x1="40.50" y1="346.36" x2="43.50" y2="346.36" stroke="#231f20" stroke-width="1.15"/>
<text x="37.90" y="348.86" font-size="8.2" style="stroke-width:0.04px" text-anchor="end" textLength="8.01" lengthAdjust="spacingAndGlyphs" >30</text>
<line x1="40.50" y1="330.68" x2="43.50" y2="330.68" stroke="#231f20" stroke-width="1.15"/>
<text x="37.90" y="333.18" font-size="8.2" style="stroke-width:0.04px" text-anchor="end" textLength="8.01" lengthAdjust="spacingAndGlyphs" >40</text>
<line x1="40.50" y1="315.00" x2="43.50" y2="315.00" stroke="#231f20" stroke-width="1.15"/>
<text x="37.90" y="317.50" font-size="8.2" style="stroke-width:0.04px" text-anchor="end" textLength="8.01" lengthAdjust="spacingAndGlyphs" >50</text>
<rect x="45.90" y="389.30" width="7.30" height="4.10" fill="#676a74"/>
<line x1="49.55" y1="388.20" x2="49.55" y2="389.30" stroke="#231f20" stroke-width="0.8"/>
<line x1="47.05" y1="388.20" x2="52.05" y2="388.20" stroke="#231f20" stroke-width="0.9"/>
<rect x="56.80" y="388.70" width="8.00" height="4.70" fill="#c03a78"/>
<line x1="60.80" y1="387.00" x2="60.80" y2="388.70" stroke="#231f20" stroke-width="0.8"/>
<line x1="58.30" y1="387.00" x2="63.30" y2="387.00" stroke="#231f20" stroke-width="0.9"/>
<rect x="68.40" y="361.80" width="7.80" height="31.60" fill="#676a74"/>
<line x1="72.30" y1="359.50" x2="72.30" y2="361.80" stroke="#231f20" stroke-width="0.8"/>
<line x1="69.80" y1="359.50" x2="74.80" y2="359.50" stroke="#231f20" stroke-width="0.9"/>
<rect x="79.90" y="354.80" width="7.50" height="38.60" fill="#c03a78"/>
<line x1="83.65" y1="353.30" x2="83.65" y2="354.80" stroke="#231f20" stroke-width="0.8"/>
<line x1="81.15" y1="353.30" x2="86.15" y2="353.30" stroke="#231f20" stroke-width="0.9"/>
<rect x="91.20" y="364.90" width="7.80" height="28.50" fill="#676a74"/>
<line x1="95.10" y1="362.60" x2="95.10" y2="364.90" stroke="#231f20" stroke-width="0.8"/>
<line x1="92.60" y1="362.60" x2="97.60" y2="362.60" stroke="#231f20" stroke-width="0.9"/>
<rect x="102.30" y="354.70" width="8.30" height="38.70" fill="#c03a78"/>
<line x1="106.45" y1="353.30" x2="106.45" y2="354.70" stroke="#231f20" stroke-width="0.8"/>
<line x1="103.95" y1="353.30" x2="108.95" y2="353.30" stroke="#231f20" stroke-width="0.9"/>
<rect x="114.00" y="334.20" width="8.20" height="59.20" fill="#676a74"/>
<line x1="118.10" y1="331.40" x2="118.10" y2="334.20" stroke="#231f20" stroke-width="0.8"/>
<line x1="115.60" y1="331.40" x2="120.60" y2="331.40" stroke="#231f20" stroke-width="0.9"/>
<rect x="125.60" y="338.80" width="7.80" height="54.60" fill="#c03a78"/>
<line x1="129.50" y1="336.80" x2="129.50" y2="338.80" stroke="#231f20" stroke-width="0.8"/>
<line x1="127.00" y1="336.80" x2="132.00" y2="336.80" stroke="#231f20" stroke-width="0.9"/>
<rect x="137.00" y="356.40" width="8.00" height="37.00" fill="#676a74"/>
<line x1="141.00" y1="353.90" x2="141.00" y2="356.40" stroke="#231f20" stroke-width="0.8"/>
<line x1="138.50" y1="353.90" x2="143.50" y2="353.90" stroke="#231f20" stroke-width="0.9"/>
<rect x="148.90" y="370.20" width="7.80" height="23.20" fill="#c03a78"/>
<line x1="152.80" y1="365.50" x2="152.80" y2="370.20" stroke="#231f20" stroke-width="0.8"/>
<line x1="150.30" y1="365.50" x2="155.30" y2="365.50" stroke="#231f20" stroke-width="0.9"/>
<line x1="43.00" y1="393.40" x2="159.50" y2="393.40" stroke="#231f20" stroke-width="1.15"/>
<line x1="49.55" y1="393.40" x2="49.55" y2="396.20" stroke="#231f20" stroke-width="0.8"/>
<line x1="60.80" y1="393.40" x2="60.80" y2="396.20" stroke="#231f20" stroke-width="0.8"/>
<line x1="72.30" y1="393.40" x2="72.30" y2="396.20" stroke="#231f20" stroke-width="0.8"/>
<line x1="83.65" y1="393.40" x2="83.65" y2="396.20" stroke="#231f20" stroke-width="0.8"/>
<line x1="95.10" y1="393.40" x2="95.10" y2="396.20" stroke="#231f20" stroke-width="0.8"/>
<line x1="106.45" y1="393.40" x2="106.45" y2="396.20" stroke="#231f20" stroke-width="0.8"/>
<line x1="118.10" y1="393.40" x2="118.10" y2="396.20" stroke="#231f20" stroke-width="0.8"/>
<line x1="129.50" y1="393.40" x2="129.50" y2="396.20" stroke="#231f20" stroke-width="0.8"/>
<line x1="141.00" y1="393.40" x2="141.00" y2="396.20" stroke="#231f20" stroke-width="0.8"/>
<line x1="152.80" y1="393.40" x2="152.80" y2="396.20" stroke="#231f20" stroke-width="0.8"/>
<line x1="46.70" y1="399.20" x2="62.90" y2="399.20" stroke="#444" stroke-width="1"/>
<text x="54.80" y="409.00" font-size="7.2" text-anchor="middle" >I</text>
<line x1="69.90" y1="399.20" x2="86.00" y2="399.20" stroke="#444" stroke-width="1"/>
<text x="78.00" y="409.00" font-size="7.2" text-anchor="middle" >II</text>
<line x1="92.80" y1="399.20" x2="109.00" y2="399.20" stroke="#444" stroke-width="1"/>
<text x="100.60" y="409.00" font-size="7.2" text-anchor="middle" >III</text>
<line x1="115.50" y1="399.20" x2="132.10" y2="399.20" stroke="#444" stroke-width="1"/>
<text x="123.80" y="409.00" font-size="7.2" text-anchor="middle" >IV</text>
<line x1="138.50" y1="399.20" x2="155.10" y2="399.20" stroke="#444" stroke-width="1"/>
<text x="146.60" y="409.00" font-size="7.2" text-anchor="middle" >V</text>
<line x1="72.30" y1="346.60" x2="83.80" y2="346.60" stroke="#333" stroke-width="0.95"/>
<circle cx="78.00" cy="342.90" r="1.0" fill="#333"/>
<line x1="95.10" y1="346.60" x2="106.80" y2="346.60" stroke="#333" stroke-width="0.95"/>
<circle cx="99.30" cy="342.90" r="1.0" fill="#333"/>
<circle cx="102.50" cy="342.90" r="1.0" fill="#333"/>
<line x1="141.10" y1="346.60" x2="152.50" y2="346.60" stroke="#333" stroke-width="0.95"/>
<circle cx="146.90" cy="342.90" r="1.0" fill="#333"/>
<text x="22.45" y="352.45" font-size="9.6" text-anchor="middle" textLength="53.70" lengthAdjust="spacingAndGlyphs" transform="rotate(-90 22.45 352.45)" >% of total EBs</text>
<rect x="47.10" y="423.90" width="10.80" height="7.20" fill="#676a74"/>
<text x="61.50" y="429.90" font-size="7.9" style="stroke-width:0.22px" textLength="22.60" lengthAdjust="spacingAndGlyphs" >Control</text>
<rect x="95.60" y="423.90" width="11.20" height="7.20" fill="#c03a78"/>
<text x="110.10" y="429.40" font-size="7.9" style="stroke-width:0.22px" textLength="16.50" lengthAdjust="spacingAndGlyphs" >Maea</text>
<text x="126.90" y="426.60" font-size="5.4" style="stroke-width:0.1px;font-family:'Liberation Serif', serif" textLength="24.20" lengthAdjust="spacingAndGlyphs" >CD169-Cre</text>
<line x1="205.10" y1="323.50" x2="205.10" y2="393.80" stroke="#231f20" stroke-width="1.15"/>
<line x1="202.10" y1="393.30" x2="205.10" y2="393.30" stroke="#231f20" stroke-width="1.15"/>
<text x="199.50" y="395.80" font-size="8.2" style="stroke-width:0.04px" text-anchor="end" textLength="4.00" lengthAdjust="spacingAndGlyphs" >0</text>
<line x1="202.10" y1="379.98" x2="205.10" y2="379.98" stroke="#231f20" stroke-width="1.15"/>
<text x="199.50" y="382.48" font-size="8.2" style="stroke-width:0.04px" text-anchor="end" textLength="8.01" lengthAdjust="spacingAndGlyphs" >20</text>
<line x1="202.10" y1="366.66" x2="205.10" y2="366.66" stroke="#231f20" stroke-width="1.15"/>
<text x="199.50" y="369.16" font-size="8.2" style="stroke-width:0.04px" text-anchor="end" textLength="8.01" lengthAdjust="spacingAndGlyphs" >40</text>
<line x1="202.10" y1="353.34" x2="205.10" y2="353.34" stroke="#231f20" stroke-width="1.15"/>
<text x="199.50" y="355.84" font-size="8.2" style="stroke-width:0.04px" text-anchor="end" textLength="8.01" lengthAdjust="spacingAndGlyphs" >60</text>
<line x1="202.10" y1="340.02" x2="205.10" y2="340.02" stroke="#231f20" stroke-width="1.15"/>
<text x="199.50" y="342.52" font-size="8.2" style="stroke-width:0.04px" text-anchor="end" textLength="8.01" lengthAdjust="spacingAndGlyphs" >80</text>
<line x1="202.10" y1="326.70" x2="205.10" y2="326.70" stroke="#231f20" stroke-width="1.15"/>
<text x="199.50" y="329.20" font-size="8.2" style="stroke-width:0.04px" text-anchor="end" textLength="12.01" lengthAdjust="spacingAndGlyphs" >100</text>
<rect x="208.50" y="392.70" width="6.30" height="0.60" fill="#676a74"/>
<line x1="211.65" y1="392.23" x2="211.65" y2="392.70" stroke="#4a4d57" stroke-width="0.8"/>
<line x1="208.95" y1="392.23" x2="214.35" y2="392.23" stroke="#4a4d57" stroke-width="0.9"/>
<rect x="221.30" y="379.51" width="7.70" height="13.79" fill="#676a74"/>
<line x1="225.15" y1="371.32" x2="225.15" y2="379.51" stroke="#4a4d57" stroke-width="0.8"/>
<line x1="222.45" y1="371.32" x2="227.85" y2="371.32" stroke="#4a4d57" stroke-width="0.9"/>
<rect x="234.20" y="383.11" width="7.70" height="10.19" fill="#676a74"/>
<line x1="238.05" y1="378.38" x2="238.05" y2="383.11" stroke="#4a4d57" stroke-width="0.8"/>
<line x1="235.35" y1="378.38" x2="240.75" y2="378.38" stroke="#4a4d57" stroke-width="0.9"/>
<rect x="247.00" y="388.57" width="7.80" height="4.73" fill="#676a74"/>
<line x1="250.90" y1="387.64" x2="250.90" y2="388.57" stroke="#4a4d57" stroke-width="0.8"/>
<line x1="248.20" y1="387.64" x2="253.60" y2="387.64" stroke="#4a4d57" stroke-width="0.9"/>
<rect x="260.60" y="338.82" width="7.70" height="54.48" fill="#676a74"/>
<line x1="264.45" y1="337.22" x2="264.45" y2="338.82" stroke="#4a4d57" stroke-width="0.8"/>
<line x1="261.75" y1="337.22" x2="267.15" y2="337.22" stroke="#4a4d57" stroke-width="0.9"/>
<line x1="204.60" y1="393.30" x2="271.10" y2="393.30" stroke="#231f20" stroke-width="1.15"/>
<line x1="211.65" y1="393.30" x2="211.65" y2="396.10" stroke="#231f20" stroke-width="0.8"/>
<line x1="225.15" y1="393.30" x2="225.15" y2="396.10" stroke="#231f20" stroke-width="0.8"/>
<line x1="238.05" y1="393.30" x2="238.05" y2="396.10" stroke="#231f20" stroke-width="0.8"/>
<line x1="250.90" y1="393.30" x2="250.90" y2="396.10" stroke="#231f20" stroke-width="0.8"/>
<line x1="264.45" y1="393.30" x2="264.45" y2="396.10" stroke="#231f20" stroke-width="0.8"/>
<text x="237.80" y="318.60" font-size="8.6" text-anchor="middle" textLength="27.20" lengthAdjust="spacingAndGlyphs" >Spleen</text>
<text x="179.45" y="358.40" font-size="9.6" text-anchor="middle" textLength="68.80" lengthAdjust="spacingAndGlyphs" transform="rotate(-90 179.45 358.40)" >Tomato<tspan font-size="6.5" dy="-3.5">+</tspan><tspan dy="3.5"> cells (%)</tspan></text>
<text x="215.05" y="401.20" font-size="7.5" text-anchor="end" transform="rotate(-45 215.05 401.20)">B cells</text>
<text x="228.55" y="401.20" font-size="7.5" text-anchor="end" transform="rotate(-45 228.55 401.20)">Neutrophils</text>
<text x="241.45" y="401.20" font-size="7.5" text-anchor="end" transform="rotate(-45 241.45 401.20)">Gr1<tspan font-size="5.5" dx="0.3" dy="-3">+</tspan><tspan dy="3"> Monocytes</tspan></text>
<text x="254.30" y="401.20" font-size="7.5" text-anchor="end" transform="rotate(-45 254.30 401.20)">Gr1<tspan font-size="5.5" dx="0.3" dy="-3">−</tspan><tspan dy="3"> Monocytes</tspan></text>
<text x="267.85" y="401.20" font-size="7.5" text-anchor="end" transform="rotate(-45 267.85 401.20)">Macrophages</text>
<line x1="316.40" y1="314.40" x2="316.40" y2="393.70" stroke="#231f20" stroke-width="1.15"/>
<line x1="313.40" y1="393.20" x2="316.40" y2="393.20" stroke="#231f20" stroke-width="1.15"/>
<text x="310.80" y="395.70" font-size="8.2" style="stroke-width:0.04px" text-anchor="end" textLength="4.00" lengthAdjust="spacingAndGlyphs" >0</text>
<line x1="313.40" y1="367.67" x2="316.40" y2="367.67" stroke="#231f20" stroke-width="1.15"/>
<text x="310.80" y="370.17" font-size="8.2" style="stroke-width:0.04px" text-anchor="end" textLength="8.01" lengthAdjust="spacingAndGlyphs" >50</text>
<line x1="313.40" y1="342.13" x2="316.40" y2="342.13" stroke="#231f20" stroke-width="1.15"/>
<text x="310.80" y="344.63" font-size="8.2" style="stroke-width:0.04px" text-anchor="end" textLength="12.01" lengthAdjust="spacingAndGlyphs" >100</text>
<line x1="313.40" y1="316.60" x2="316.40" y2="316.60" stroke="#231f20" stroke-width="1.15"/>
<text x="310.80" y="319.10" font-size="8.2" style="stroke-width:0.04px" text-anchor="end" textLength="12.01" lengthAdjust="spacingAndGlyphs" >150</text>
<rect x="320.00" y="362.30" width="12.30" height="30.90" fill="#676a74"/>
<line x1="326.15" y1="358.50" x2="326.15" y2="366.40" stroke="#231f20" stroke-width="0.8"/>
<line x1="322.90" y1="358.50" x2="329.40" y2="358.50" stroke="#231f20" stroke-width="0.9"/>
<line x1="322.90" y1="366.40" x2="329.40" y2="366.40" stroke="#231f20" stroke-width="0.9"/>
<rect x="338.70" y="355.20" width="12.60" height="38.00" fill="#c03a78"/>
<line x1="345.00" y1="349.20" x2="345.00" y2="361.00" stroke="#231f20" stroke-width="0.8"/>
<line x1="341.70" y1="349.20" x2="348.30" y2="349.20" stroke="#231f20" stroke-width="0.9"/>
<line x1="341.70" y1="361.00" x2="348.30" y2="361.00" stroke="#231f20" stroke-width="0.9"/>
<line x1="315.90" y1="393.20" x2="354.50" y2="393.20" stroke="#231f20" stroke-width="1.15"/>
<line x1="325.90" y1="393.20" x2="325.90" y2="396.00" stroke="#231f20" stroke-width="0.8"/>
<line x1="345.20" y1="393.20" x2="345.20" y2="396.00" stroke="#231f20" stroke-width="0.8"/>
<circle cx="325.90" cy="347.50" r="1.75" fill="#111"/>
<circle cx="323.70" cy="357.20" r="1.75" fill="#111"/>
<circle cx="328.20" cy="356.60" r="1.75" fill="#111"/>
<circle cx="326.60" cy="368.60" r="1.75" fill="#111"/>
<circle cx="328.30" cy="370.30" r="1.75" fill="#111"/>
<circle cx="323.70" cy="374.30" r="1.75" fill="#111"/>
<circle cx="345.20" cy="335.30" r="1.75" fill="#111"/>
<circle cx="342.60" cy="346.80" r="1.75" fill="#111"/>
<circle cx="347.50" cy="346.60" r="1.75" fill="#111"/>
<circle cx="345.20" cy="363.30" r="1.75" fill="#111"/>
<circle cx="347.50" cy="368.00" r="1.75" fill="#111"/>
<circle cx="342.60" cy="371.50" r="1.75" fill="#111"/>
<text x="290.65" y="353.55" font-size="9.6" text-anchor="middle" textLength="73.90" lengthAdjust="spacingAndGlyphs" transform="rotate(-90 290.65 353.55)" >Cells/spleen (x10<tspan font-size="6" dy="-3.6">6</tspan><tspan dy="3.6">)</tspan></text>
<line x1="396.40" y1="314.40" x2="396.40" y2="393.70" stroke="#231f20" stroke-width="1.15"/>
<line x1="393.40" y1="393.20" x2="396.40" y2="393.20" stroke="#231f20" stroke-width="1.15"/>
<text x="390.80" y="395.70" font-size="8.2" style="stroke-width:0.04px" text-anchor="end" textLength="4.00" lengthAdjust="spacingAndGlyphs" >0</text>
<line x1="393.40" y1="374.05" x2="396.40" y2="374.05" stroke="#231f20" stroke-width="1.15"/>
<text x="390.80" y="376.55" font-size="8.2" style="stroke-width:0.04px" text-anchor="end" textLength="8.01" lengthAdjust="spacingAndGlyphs" >10</text>
<line x1="393.40" y1="354.90" x2="396.40" y2="354.90" stroke="#231f20" stroke-width="1.15"/>
<text x="390.80" y="357.40" font-size="8.2" style="stroke-width:0.04px" text-anchor="end" textLength="8.01" lengthAdjust="spacingAndGlyphs" >20</text>
<line x1="393.40" y1="335.75" x2="396.40" y2="335.75" stroke="#231f20" stroke-width="1.15"/>
<text x="390.80" y="338.25" font-size="8.2" style="stroke-width:0.04px" text-anchor="end" textLength="8.01" lengthAdjust="spacingAndGlyphs" >30</text>
<line x1="393.40" y1="316.60" x2="396.40" y2="316.60" stroke="#231f20" stroke-width="1.15"/>
<text x="390.80" y="319.10" font-size="8.2" style="stroke-width:0.04px" text-anchor="end" textLength="8.01" lengthAdjust="spacingAndGlyphs" >40</text>
<rect x="399.70" y="370.60" width="12.50" height="22.60" fill="#676a74"/>
<line x1="405.95" y1="366.60" x2="405.95" y2="370.60" stroke="#231f20" stroke-width="0.8"/>
<line x1="402.70" y1="366.60" x2="409.20" y2="366.60" stroke="#231f20" stroke-width="0.9"/>
<rect x="418.60" y="356.90" width="12.40" height="36.30" fill="#c03a78"/>
<line x1="424.80" y1="350.20" x2="424.80" y2="356.90" stroke="#231f20" stroke-width="0.8"/>
<line x1="421.60" y1="350.20" x2="428.00" y2="350.20" stroke="#231f20" stroke-width="0.9"/>
<line x1="395.90" y1="393.20" x2="434.50" y2="393.20" stroke="#231f20" stroke-width="1.15"/>
<line x1="405.90" y1="393.20" x2="405.90" y2="396.00" stroke="#231f20" stroke-width="0.8"/>
<line x1="424.80" y1="393.20" x2="424.80" y2="396.00" stroke="#231f20" stroke-width="0.8"/>
<circle cx="405.90" cy="352.90" r="1.75" fill="#111"/>
<circle cx="405.90" cy="362.90" r="1.75" fill="#111"/>
<circle cx="403.90" cy="373.30" r="1.75" fill="#111"/>
<circle cx="410.30" cy="375.30" r="1.75" fill="#111"/>
<circle cx="407.70" cy="378.60" r="1.75" fill="#111"/>
<circle cx="403.50" cy="381.50" r="1.75" fill="#111"/>
<circle cx="424.80" cy="327.30" r="1.75" fill="#111"/>
<circle cx="422.30" cy="356.70" r="1.75" fill="#111"/>
<circle cx="426.80" cy="355.30" r="1.75" fill="#111"/>
<circle cx="422.60" cy="362.60" r="1.75" fill="#111"/>
<circle cx="426.80" cy="365.70" r="1.75" fill="#111"/>
<circle cx="424.80" cy="374.60" r="1.75" fill="#111"/>
<text x="375.55" y="354.00" font-size="9.6" text-anchor="middle" textLength="68.00" lengthAdjust="spacingAndGlyphs" transform="rotate(-90 375.55 354.00)" >Mϕ/spleen (x10<tspan font-size="6" dy="-3.6">5</tspan><tspan dy="3.6">)</tspan></text>
<line x1="475.40" y1="315.00" x2="475.40" y2="393.70" stroke="#231f20" stroke-width="1.15"/>
<line x1="472.40" y1="393.20" x2="475.40" y2="393.20" stroke="#231f20" stroke-width="1.15"/>
<text x="469.80" y="395.70" font-size="8.2" style="stroke-width:0.04px" text-anchor="end" textLength="4.00" lengthAdjust="spacingAndGlyphs" >0</text>
<line x1="472.40" y1="368.00" x2="475.40" y2="368.00" stroke="#231f20" stroke-width="1.15"/>
<text x="469.80" y="370.50" font-size="8.2" style="stroke-width:0.04px" text-anchor="end" textLength="8.01" lengthAdjust="spacingAndGlyphs" >10</text>
<line x1="472.40" y1="342.80" x2="475.40" y2="342.80" stroke="#231f20" stroke-width="1.15"/>
<text x="469.80" y="345.30" font-size="8.2" style="stroke-width:0.04px" text-anchor="end" textLength="8.01" lengthAdjust="spacingAndGlyphs" >20</text>
<line x1="472.40" y1="317.60" x2="475.40" y2="317.60" stroke="#231f20" stroke-width="1.15"/>
<text x="469.80" y="320.10" font-size="8.2" style="stroke-width:0.04px" text-anchor="end" textLength="8.01" lengthAdjust="spacingAndGlyphs" >30</text>
<rect x="478.60" y="381.50" width="12.70" height="11.70" fill="#676a74"/>
<line x1="484.95" y1="379.00" x2="484.95" y2="381.50" stroke="#231f20" stroke-width="0.8"/>
<line x1="481.70" y1="379.00" x2="488.20" y2="379.00" stroke="#231f20" stroke-width="0.9"/>
<rect x="497.20" y="357.20" width="12.70" height="36.00" fill="#c03a78"/>
<line x1="503.55" y1="349.90" x2="503.55" y2="364.00" stroke="#231f20" stroke-width="0.8"/>
<line x1="500.35" y1="349.90" x2="506.75" y2="349.90" stroke="#231f20" stroke-width="0.9"/>
<line x1="500.35" y1="364.00" x2="506.75" y2="364.00" stroke="#231f20" stroke-width="0.9"/>
<line x1="474.90" y1="393.20" x2="512.90" y2="393.20" stroke="#231f20" stroke-width="1.15"/>
<line x1="484.60" y1="393.20" x2="484.60" y2="396.00" stroke="#231f20" stroke-width="0.8"/>
<line x1="503.60" y1="393.20" x2="503.60" y2="396.00" stroke="#231f20" stroke-width="0.8"/>
<circle cx="482.60" cy="375.00" r="1.75" fill="#111"/>
<circle cx="487.30" cy="379.30" r="1.75" fill="#111"/>
<circle cx="480.20" cy="382.30" r="1.75" fill="#111"/>
<circle cx="489.00" cy="383.90" r="1.75" fill="#111"/>
<circle cx="484.60" cy="385.90" r="1.75" fill="#111"/>
<circle cx="503.50" cy="331.50" r="1.75" fill="#111"/>
<circle cx="503.60" cy="356.40" r="1.75" fill="#111"/>
<circle cx="501.50" cy="359.70" r="1.75" fill="#111"/>
<circle cx="505.90" cy="362.00" r="1.75" fill="#111"/>
<circle cx="503.60" cy="377.00" r="1.75" fill="#111"/>
<line x1="485.00" y1="323.40" x2="504.50" y2="323.40" stroke="#333" stroke-width="0.95"/>
<circle cx="494.80" cy="319.70" r="1.0" fill="#333"/>
<text x="453.85" y="357.20" font-size="9.6" text-anchor="middle" textLength="70.40" lengthAdjust="spacingAndGlyphs" transform="rotate(-90 453.85 357.20)" >EB/spleen (x10<tspan font-size="6" dy="-3.6">6</tspan><tspan dy="3.6">)</tspan></text>
<rect x="361.00" y="409.20" width="10.90" height="6.90" fill="#676a74"/>
<text x="374.80" y="415.00" font-size="7.9" style="stroke-width:0.22px" textLength="23.10" lengthAdjust="spacingAndGlyphs" >Control</text>
<rect x="409.20" y="409.20" width="11.70" height="7.20" fill="#c03a78"/>
<text x="424.00" y="414.80" font-size="7.9" style="stroke-width:0.22px" textLength="16.40" lengthAdjust="spacingAndGlyphs" >Maea</text>
<text x="440.60" y="411.90" font-size="5.4" style="stroke-width:0.1px;font-family:'Liberation Serif', serif" textLength="24.70" lengthAdjust="spacingAndGlyphs" >CD169-Cre</text>
<line x1="0.50" y1="0.00" x2="0.50" y2="451.00" stroke="#080808" stroke-width="1"/>
<line x1="0.00" y1="0.50" x2="520.00" y2="0.50" stroke="#444" stroke-width="1"/>
<line x1="0.00" y1="1.50" x2="520.00" y2="1.50" stroke="#b0b0b0" stroke-width="1"/>
<line x1="519.50" y1="0.00" x2="519.50" y2="451.00" stroke="#444" stroke-width="1"/>
<line x1="518.50" y1="1.00" x2="518.50" y2="450.00" stroke="#888" stroke-width="1"/>
<line x1="0.00" y1="450.50" x2="520.00" y2="450.50" stroke="#444" stroke-width="1"/>
<line x1="1.00" y1="449.50" x2="519.00" y2="449.50" stroke="#999" stroke-width="1"/>
<line x1="1.50" y1="1.00" x2="1.50" y2="450.00" stroke="#d0d0d0" stroke-width="1"/>
</svg>
</body></html>
